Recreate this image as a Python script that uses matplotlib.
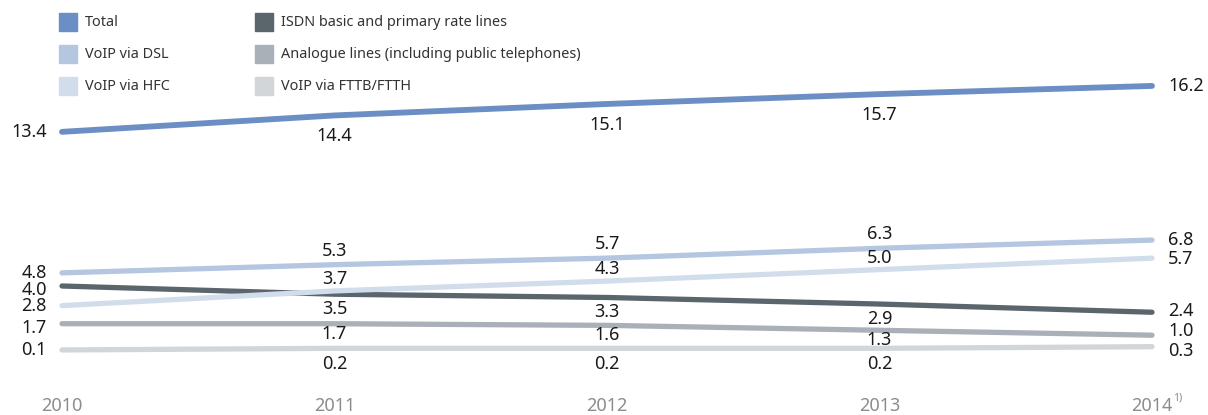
import matplotlib
matplotlib.use("Agg")
import matplotlib.pyplot as plt
from matplotlib.patches import Rectangle

plt.rcParams['font.family'] = ['Noto Sans', 'DejaVu Sans']

years = [2010, 2011, 2012, 2013, 2014]
year_labels = ["2010", "2011", "2012", "2013", "2014"]

series_names = ["Total", "VoIP via DSL", "VoIP via HFC",
                "ISDN basic and primary rate lines",
                "Analogue lines (including public telephones)",
                "VoIP via FTTB/FTTH"]
total = [13.4, 14.4, 15.1, 15.7, 16.2]
voip_dsl = [4.8, 5.3, 5.7, 6.3, 6.8]
voip_hfc = [2.8, 3.7, 4.3, 5.0, 5.7]
isdn = [4.0, 3.5, 3.3, 2.9, 2.4]
analogue = [1.7, 1.7, 1.6, 1.3, 1.0]
voip_fttb = [0.1, 0.2, 0.2, 0.2, 0.3]

values = [total, voip_dsl, voip_hfc, isdn, analogue, voip_fttb]
colors = ["#6b8ec4", "#b4c6e0", "#d2ddec", "#5b656c", "#a9b0b7", "#d3d6d9"]
widths = [4.2, 3.8, 3.8, 3.8, 3.8, 3.8]
# label offsets in pixels, positive = label centre moved downwards
mid_offsets = [21, -14, -12, 15, 10, 16]
left_offsets = [0, 0, 0, 4, 4, 0]
right_offsets = [0, 0, 1, -1, -4, 4]

W, H = 1208, 415
fig = plt.figure(figsize=(W / 100, H / 100), dpi=100)
x0, x1 = 62, 1152
y0 = 351.6
ppu = 16.4
ymax = 17
ax = fig.add_axes([x0 / W, (H - y0) / H, (x1 - x0) / W, ymax * ppu / H])
ax.set_xlim(2010, 2014)
ax.set_ylim(0, ymax)
for s in ax.spines.values():
    s.set_visible(False)
ax.set_yticks([])

for i in [5, 4, 3, 2, 1, 0]:
    ax.plot(years, values[i], color=colors[i], lw=widths[i],
            solid_capstyle='round', clip_on=False)

fs = 13
tc = '#1a1a1a'
for i, vals in enumerate(values):
    for j, (x, v) in enumerate(zip(years, vals)):
        txt = f"{v:.1f}"
        if j == 0:
            ax.annotate(txt, (x, v), xytext=(-15, -left_offsets[i]), textcoords='offset pixels',
                        ha='right', va='center', fontsize=fs, color=tc)
        elif j == len(vals) - 1:
            ax.annotate(txt, (x, v), xytext=(16, -right_offsets[i]), textcoords='offset pixels',
                        ha='left', va='center', fontsize=fs, color=tc)
        else:
            ax.annotate(txt, (x, v), xytext=(0, -mid_offsets[i]), textcoords='offset pixels',
                        ha='center', va='center', fontsize=fs, color=tc)

ax.set_xticks(years)
ax.set_xticklabels(year_labels)
ax.tick_params(axis='x', length=0, pad=33, labelsize=13, labelcolor='#8c8c8c')
ax.annotate("1)", (2014, 0), xytext=(21, -46), textcoords='offset pixels',
            ha='left', va='center', fontsize=7.5, color='#8c8c8c')

# legend
col_x = [59, 255]
row_y = [22, 54, 86]
for i, name in enumerate(series_names):
    c, r = divmod(i, 3)
    px = col_x[c]
    py = row_y[r]
    fig.patches.append(Rectangle((px / W, (H - py - 9) / H), 18 / W, 18 / H,
                                 transform=fig.transFigure, color=colors[i]))
    fig.text((px + 26) / W, (H - py) / H, name, ha='left', va='center',
             fontsize=10.4, color='#333333')

fig.savefig("out.png", dpi=100)
